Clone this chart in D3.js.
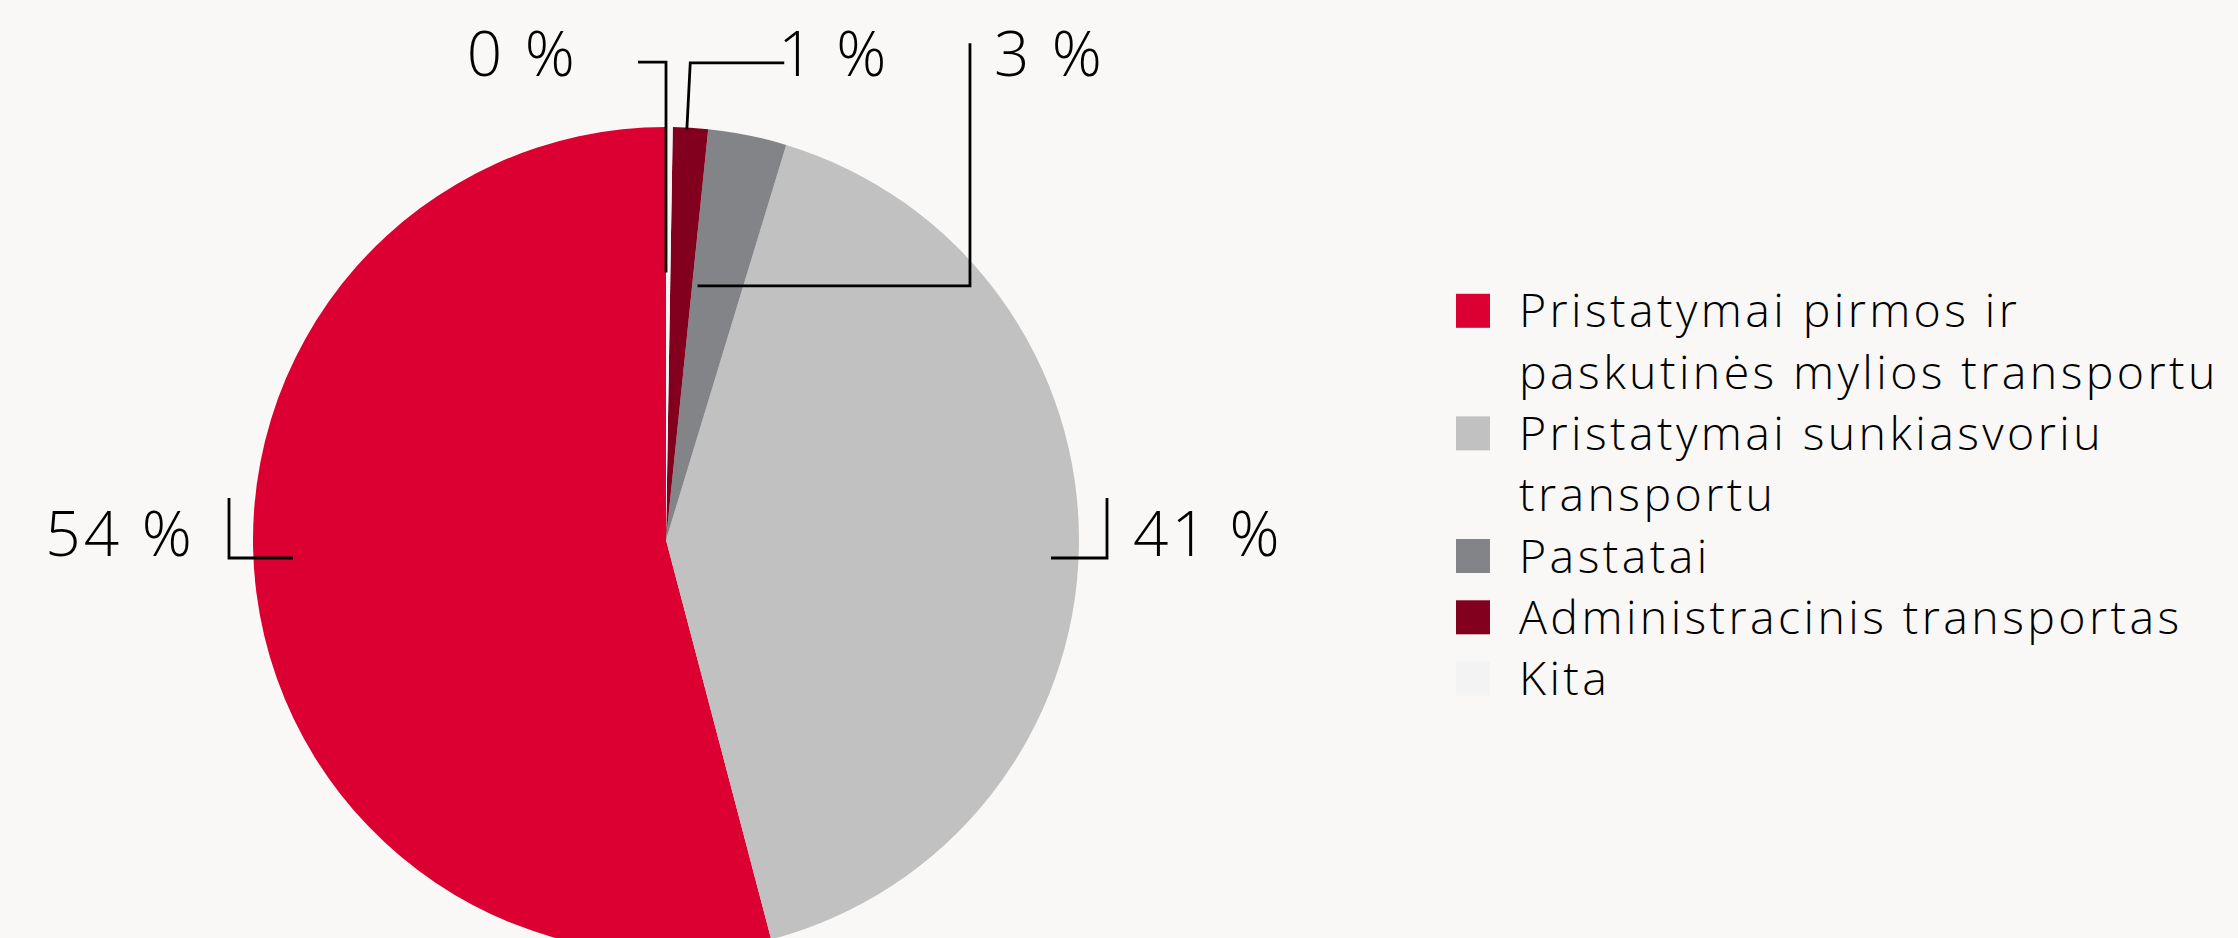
<!DOCTYPE html>
<html>
<head>
<meta charset="utf-8">
<script src="https://cdn.jsdelivr.net/npm/d3@7"></script>
<style>
  html, body { margin: 0; padding: 0; background: #f9f8f6; }
  svg { display: block; font-family: "Open Sans", sans-serif; }
</style>
</head>
<body>
<svg id="chart" width="2238" height="938"></svg>
<script>
// ---- data ----
const categories = [
  "Pristatymai pirmos ir paskutinės mylios transportu",
  "Pristatymai sunkiasvoriu transportu",
  "Pastatai",
  "Administracinis transportas",
  "Kita"
];
const shares = [54.1, 41.2, 3.07, 1.37, 0.26];
const colors = ["#dc0032", "#c1c1c1", "#838488", "#82001e", "#f3f3f3"];

// ---- layout ----
const W = 2238, H = 938;
const cx = 666, cy = 540, R = 413;

// leader lines per slice (same order as categories)
// t = where on the slice (0 = its start edge, 1 = its end edge)
const leaders = [
  { kind: "left" },
  { kind: "right" },
  { kind: "elbow", t: 0.89, r0: 0.62, xr: 0.736, top: 1.203, textDx: 24 },
  { kind: "radial", t: 0.6, r0: 0.995, r1: 1.157, dx: 94, textDx: -6 },
  { kind: "radial", t: 1.0, r0: 0.648, r1: 1.157, dx: -28, textDx: -60 }
];
const labelBaseline = 76;

const d3 = window.d3;
const svg = d3.select("#chart");

const data = categories.map((name, i) => ({ name, value: shares[i], color: colors[i], i }));

// slices run counter-clockwise from 12 o'clock in legend order
const pie = d3.pie().sort(null).value(d => d.value).startAngle(0).endAngle(-2 * Math.PI);
const arcs = pie(data);
const arc = d3.arc().innerRadius(0).outerRadius(R);

const g = svg.append("g").attr("transform", `translate(${cx},${cy})`);
g.selectAll("path")
  .data(arcs)
  .enter()
  .append("path")
  .attr("d", arc)
  .attr("fill", d => d.data.color);

const polar = (a, rr) => [cx + rr * Math.sin(a), cy - rr * Math.cos(a)];
const pct = v => `${Math.round(v)} %`;

const lines = svg.append("g")
  .attr("fill", "none")
  .attr("stroke", "#000")
  .attr("stroke-width", 2.8)
  .attr("stroke-linejoin", "miter");
const labels = svg.append("g")
  .attr("font-size", 62)
  .attr("font-weight", 300)
  .attr("letter-spacing", 3.2)
  .attr("fill", "#000");

arcs.forEach((d, i) => {
  const L = leaders[i];
  const txt = pct(d.data.value);
  let pts, tx, ty, anchor;

  if (L.kind === "left") {
    const yy = cy + 18, xv = cx - R - 24;
    pts = [[xv, cy - 42], [xv, yy], [cx - R + 40, yy]];
    tx = xv - 34; ty = cy + 16; anchor = "end";
  } else if (L.kind === "right") {
    const yy = cy + 18, xv = cx + R + 28;
    pts = [[cx + R - 28, yy], [xv, yy], [xv, cy - 42]];
    tx = xv + 26; ty = cy + 16; anchor = "start";
  } else if (L.kind === "elbow") {
    const a = d.startAngle + L.t * (d.endAngle - d.startAngle);
    const p0 = polar(a, L.r0 * R);
    const xv = cx + L.xr * R;
    pts = [p0, [xv, p0[1]], [xv, cy - L.top * R]];
    tx = xv + L.textDx; ty = labelBaseline; anchor = "start";
  } else {
    const a = d.startAngle + L.t * (d.endAngle - d.startAngle);
    const p0 = polar(a, L.r0 * R);
    const p1 = polar(a, L.r1 * R);
    pts = [p0, p1, [p1[0] + L.dx, p1[1]]];
    tx = p1[0] + L.dx + L.textDx; ty = labelBaseline;
    anchor = L.dx > 0 ? "start" : "end";
  }

  lines.append("path").attr("d", d3.line()(pts));
  labels.append("text")
    .attr("x", tx)
    .attr("y", ty)
    .attr("text-anchor", anchor)
    .text(txt);
});

// ---- legend ----
const legX = 1456, legTextX = 1519, legTop = 327.3, lineH = 61.3, sw = 34;
const maxW = W - legTextX - 4;
const legend = svg.append("g")
  .attr("font-size", 46.5)
  .attr("font-weight", 300)
  .attr("letter-spacing", 3.4)
  .attr("fill", "#000");

let baseline = legTop;
data.forEach(d => {
  legend.append("rect")
    .attr("x", legX)
    .attr("y", baseline - 33.5)
    .attr("width", sw)
    .attr("height", sw)
    .attr("fill", d.color);

  const t = legend.append("text").attr("x", legTextX).attr("y", baseline);
  const words = d.name.split(" ");
  let line = [];
  let tspan = t.append("tspan").attr("x", legTextX).attr("y", baseline);
  words.forEach(w => {
    line.push(w);
    tspan.text(line.join(" "));
    if (tspan.node().getComputedTextLength() > maxW && line.length > 1) {
      line.pop();
      tspan.text(line.join(" "));
      line = [w];
      baseline += lineH;
      tspan = t.append("tspan").attr("x", legTextX).attr("y", baseline).text(w);
    }
  });
  baseline += lineH;
});
</script>
</body>
</html>
